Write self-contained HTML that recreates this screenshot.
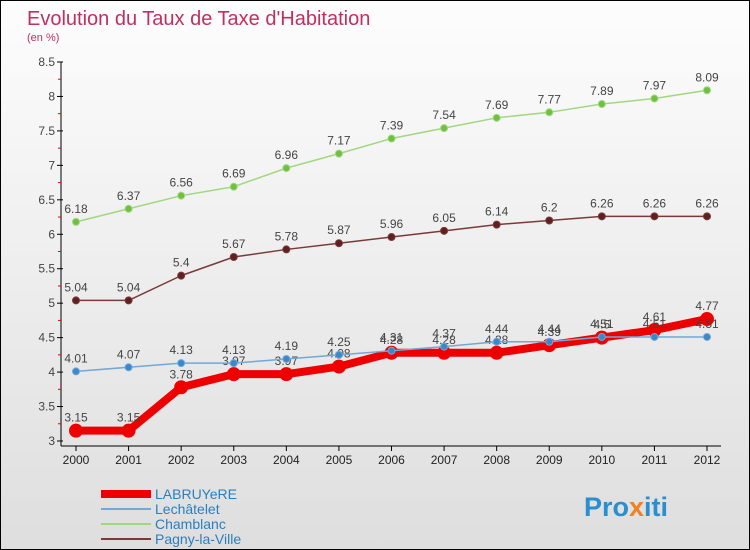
<!DOCTYPE html>
<html><head><meta charset="utf-8"><style>
body{margin:0;}
#c{width:750px;height:550px;position:relative;box-sizing:border-box;border:1px solid #000;background:linear-gradient(#fdfdfd,#dedede);font-family:"Liberation Sans","DejaVu Sans",sans-serif;overflow:hidden}
</style></head><body>
<div id="c">
<svg id="s" width="750" height="550">
<text x="26" y="24" font-size="20" fill="#c0305e">Evolution du Taux de Taxe d'Habitation</text>
<text x="26" y="40" font-size="11" fill="#c0305e">(en %)</text>
<text x="583" y="515" font-size="27" font-weight="bold" fill="#2a8fd0">Pro<tspan fill="#f08020">x</tspan>iti</text>
</svg>
</div>
<script>
const years=[2000,2001,2002,2003,2004,2005,2006,2007,2008,2009,2010,2011,2012];
const yTicks=[3,3.5,4,4.5,5,5.5,6,6.5,7,7.5,8,8.5];
const labruyere=[3.15,3.15,3.78,3.97,3.97,4.08,4.28,4.28,4.28,4.39,4.5,4.61,4.77];
const lechatelet=[4.01,4.07,4.13,4.13,4.19,4.25,4.31,4.37,4.44,4.44,4.51,4.51,4.51];
const chamblanc=[6.18,6.37,6.56,6.69,6.96,7.17,7.39,7.54,7.69,7.77,7.89,7.97,8.09];
const pagny=[5.04,5.04,5.4,5.67,5.78,5.87,5.96,6.05,6.14,6.2,6.26,6.26,6.26];
const seriesNames=["LABRUYeRE","Lechâtelet","Chamblanc","Pagny-la-Ville"];
const s=document.getElementById('s'),NS="http://www.w3.org/2000/svg";
const X=i=>75+i*(706-75)/(years.length-1);
const Y=v=>440-(v-3)*(440-61)/5.5;
function el(t,a,p){const e=document.createElementNS(NS,t);for(const k in a)e.setAttribute(k,a[k]);(p||s).appendChild(e);return e;}
let ax=el('line',{x1:60,y1:61,x2:60,y2:445,stroke:'#000'});


let bx=el('line',{x1:60,y1:445,x2:720,y2:445,stroke:'#000'});


yTicks.forEach((v,i)=>{
  el('line',{x1:56,y1:Y(v),x2:62,y2:Y(v),stroke:'#000'});
  if(i<yTicks.length-1) el('line',{x1:57,y1:Y(v+0.25),x2:60,y2:Y(v+0.25),stroke:'#e00'});
  const t=el('text',{x:54,y:Y(v)+4,'font-size':12,'text-anchor':'end',fill:'#444'});
  t.textContent=v;
  
  
});
years.forEach((yr,i)=>{
  el('line',{x1:X(i),y1:445,x2:X(i),y2:450,stroke:'#000'});
  const t=el('text',{x:X(i),y:463,'font-size':12,'text-anchor':'middle',fill:'#222'});
  t.textContent=yr;
  
  
});
function draw(data,color,w,r,dot,name){
  const g=el('g',{});
  
  
  el('polyline',{points:data.map((v,i)=>X(i)+','+Y(v)).join(' '),fill:'none',stroke:color,'stroke-width':w,'stroke-linejoin':'round'},g);
  data.forEach((v,i)=>{
    const c=el('circle',{cx:X(i),cy:Y(v),r:r,fill:dot,stroke:color,'stroke-width':1},g);
    
    
    const t=el('text',{x:X(i),y:Y(v)-9,'font-size':12,'text-anchor':'middle',fill:'#444'},g);
    t.textContent=v;
    
    
  });
}
draw(chamblanc,'#a0d880',1.5,3.5,'#70c040','chamblanc');
draw(pagny,'#7a3a3a',1.5,3.5,'#602020','pagny');
draw(labruyere,'#ee0000',8,6.5,'#ee0000','labruyere');
draw(lechatelet,'#70a8d8',1.5,3.5,'#3a88c8','lechatelet');
const lc=['#ee0000','#70a8d8','#a0d880','#7a3a3a'],lw=[8,2,2,2];
seriesNames.forEach((n,i)=>{
  const y=493+i*15;
  const l=el('line',{x1:100,y1:y,x2:150,y2:y,stroke:lc[i],'stroke-width':lw[i]});
  
  
  const t=el('text',{x:154,y:y+5,'font-size':14,fill:'#2a7fc0'});
  t.textContent=n;
  
  
});
</script>
</body></html>
